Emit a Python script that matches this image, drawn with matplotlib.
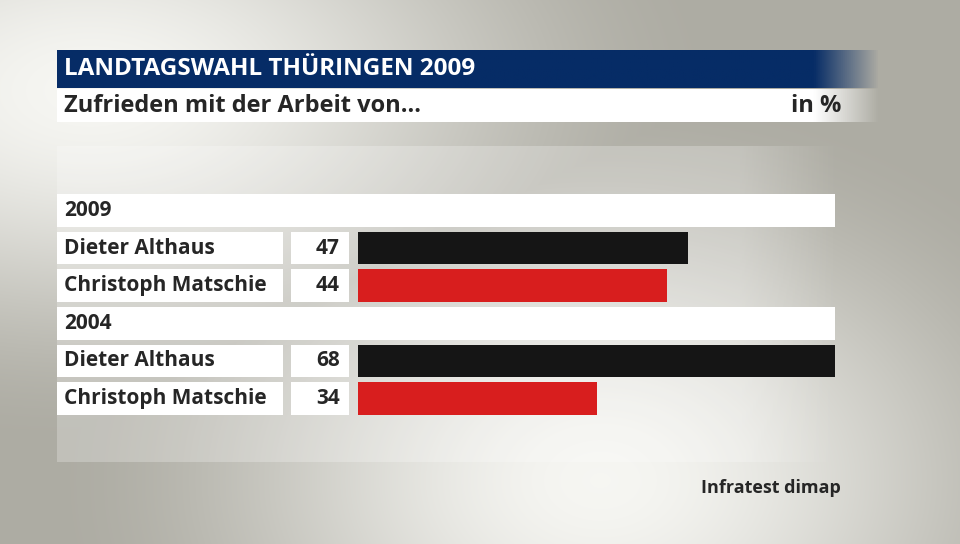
import numpy as np
import matplotlib
matplotlib.use("Agg")
import matplotlib.pyplot as plt
import matplotlib.patches as mpatches
import matplotlib.transforms as mtransforms

# data
years = ["2009", "2004"]
candidates = ["Dieter Althaus", "Christoph Matschie"]
values_2009 = [47, 44]
values_2004 = [68, 34]
bar_colors = ["#151515", "#d81e1e"]

title = "LANDTAGSWAHL THÜRINGEN 2009"
subtitle = "Zufrieden mit der Arbeit von..."
unit = "in %"
source = "Infratest dimap"

plt.rcParams['font.family'] = ['Open Sans', 'DejaVu Sans']
dark_text = "#262626"

fig = plt.figure(figsize=(9.6, 5.44), dpi=100)

# background with pixel coordinates
bg = fig.add_axes([0, 0, 1, 1])
bg.set_xlim(0, 960)
bg.set_ylim(544, 0)
bg.axis("off")

yy, xx = np.mgrid[0:544, 0:960]
d1 = np.sqrt(((xx - 90) / 640.0) ** 2 + ((yy - 90) / 360.0) ** 2)
d2 = np.sqrt(((xx - 600) / 560.0) ** 2 + ((yy - 480) / 400.0) ** 2)
t = np.clip(np.maximum(1 - d1, 1 - d2), 0, 1)
t = t * t * (3 - 2 * t)
light = np.array([0.965, 0.965, 0.95])
darkc = np.array([0.68, 0.675, 0.64])
img = darkc[None, None, :] + (light - darkc)[None, None, :] * t[..., None]
bg.imshow(img, extent=(0, 960, 544, 0), aspect="auto", zorder=0)


def fade_strip(x0, x1, fade_start, y0, y1, rgb, amax=1.0):
    xs = np.linspace(x0, x1, 400)
    alpha = np.clip((x1 - xs) / (x1 - fade_start), 0, 1) * amax
    strip = np.zeros((1, len(xs), 4))
    strip[0, :, :3] = rgb
    strip[0, :, 3] = alpha
    bg.imshow(strip, extent=(x0, x1, y1, y0), aspect="auto", zorder=2)


# lighter panel behind the chart
fade_strip(57, 840, 740, 146, 462, np.array([1.0, 1.0, 1.0]), amax=0.25)

fade_strip(57, 880, 815, 50, 88, np.array([6, 44, 102]) / 255.0)
fade_strip(57, 880, 815, 89, 122, np.array([1.0, 1.0, 1.0]))

bg.text(64, 69, title, color="white", fontsize=17.5, fontweight="bold",
        va="center", ha="left", zorder=3)
bg.text(64, 106, subtitle, color=dark_text, fontsize=17, fontweight="bold",
        va="center", ha="left", zorder=3)
bg.text(841, 106, unit, color=dark_text, fontsize=17, fontweight="bold",
        va="center", ha="right", zorder=3)
bg.text(841, 488, source, color=dark_text, fontsize=13, fontweight="bold",
        va="center", ha="right", zorder=3)

# bar axes
top_px, pitch_px = 191.7, 37.6
n_rows = 6
ax = fig.add_axes([358 / 960, 1 - (top_px + pitch_px * n_rows) / 544,
                   (835 - 358) / 960, pitch_px * n_rows / 544])
ax.set_xlim(0, max(values_2004))
ax.set_ylim(n_rows - 0.5, -0.5)
ax.axis("off")
ax.patch.set_alpha(0)

blend = mtransforms.blended_transform_factory(bg.transData, ax.transData)
h = 0.87
fs = 15

row = 0
for year, vals in zip(years, [values_2009, values_2004]):
    ax.add_patch(mpatches.Rectangle((57, row - h / 2), 778, h, transform=blend,
                                    facecolor="white", edgecolor="none", clip_on=False))
    ax.text(64, row, year, transform=blend, fontsize=fs, fontweight="bold",
            color=dark_text, va="center", ha="left")
    row += 1
    for name, v, c in zip(candidates, vals, bar_colors):
        ax.add_patch(mpatches.Rectangle((57, row - h / 2), 226, h, transform=blend,
                                        facecolor="white", edgecolor="none", clip_on=False))
        ax.add_patch(mpatches.Rectangle((291, row - h / 2), 58, h, transform=blend,
                                        facecolor="white", edgecolor="none", clip_on=False))
        ax.text(64, row, name, transform=blend, fontsize=fs, fontweight="bold",
                color=dark_text, va="center", ha="left")
        ax.text(340, row, str(v), transform=blend, fontsize=fs, fontweight="bold",
                color=dark_text, va="center", ha="right")
        ax.barh(row, v, height=h, color=c, edgecolor="none")
        row += 1

plt.savefig("out.png", dpi=100)
